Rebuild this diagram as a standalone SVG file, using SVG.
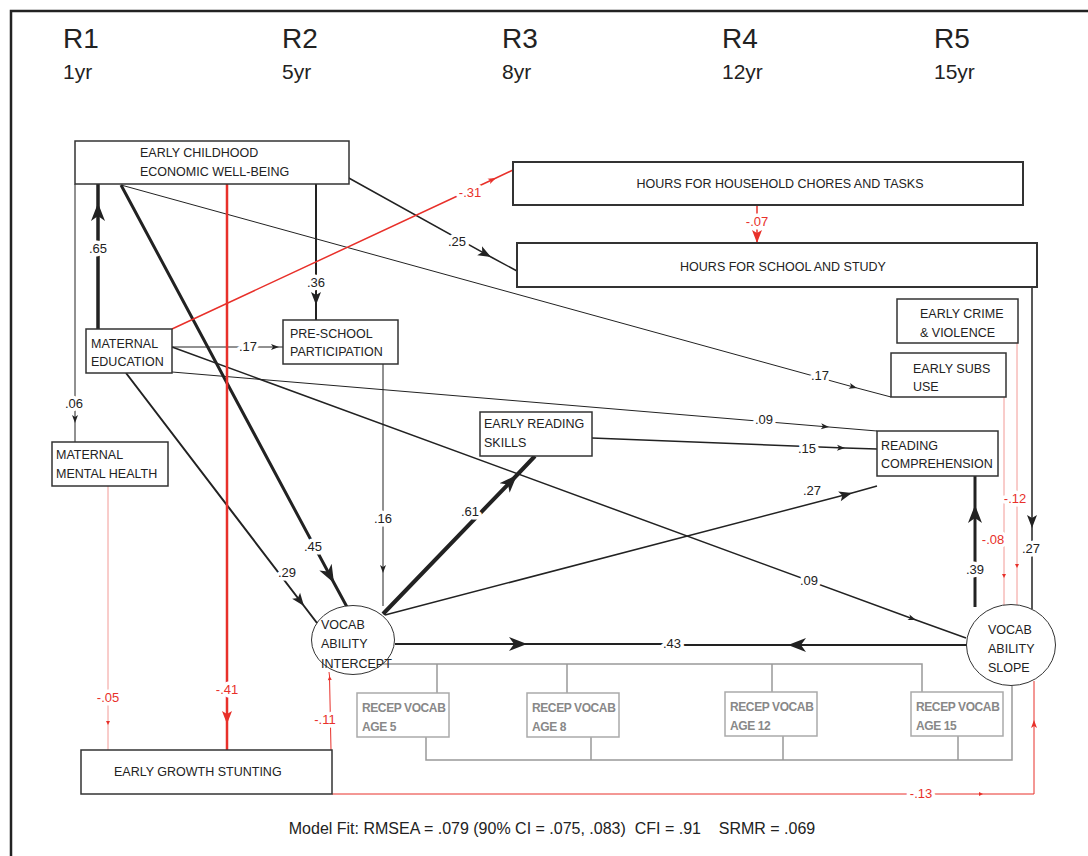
<svg xmlns="http://www.w3.org/2000/svg" width="1088" height="856" viewBox="0 0 1088 856">
  <style>
    .frame { fill: none; stroke: #222; stroke-width: 2.5; }
    .hd { font-family: "Liberation Sans", Arial, sans-serif; fill: #222; }
    .box { fill: #fff; stroke: #333; stroke-width: 1.5; }
    .boxb { fill: #fff; stroke: #333; stroke-width: 2; }
    .gbox { fill: #fff; stroke: #aaa; stroke-width: 1.5; }
    .nt { font-family: "Liberation Sans", Arial, sans-serif; font-size: 12.5px; fill: #222; }
    .gt { font-family: "Liberation Sans", Arial, sans-serif; font-size: 12px; font-weight: bold; fill: #888; letter-spacing: -0.4px; }
    .k { fill: none; stroke: #222; }
    .r { fill: none; stroke: #e8302a; }
    .rl { fill: none; stroke: #f29a96; stroke-width: 1; }
    .g { fill: none; stroke: #999; stroke-width: 1.5; }
    .lb { font-family: "Liberation Sans", Arial, sans-serif; font-size: 13px; fill: #222; text-anchor: middle;
          stroke: #fff; stroke-width: 7px; stroke-linejoin: round; paint-order: stroke; }
    .lbr { fill: #e8302a; }
  </style>
  <defs>
    <marker id="kL" markerUnits="userSpaceOnUse" viewBox="-18 -8 19 16" refX="0" refY="0" markerWidth="19" markerHeight="16" orient="auto">
      <path d="M0,0 L-18,-7 L-13,0 L-18,7 z" fill="#222"/>
    </marker>
    <marker id="kM" markerUnits="userSpaceOnUse" viewBox="-14 -6 15 12" refX="0" refY="0" markerWidth="15" markerHeight="12" orient="auto">
      <path d="M0,0 L-13,-5 L-10,0 L-13,5 z" fill="#222"/>
    </marker>
    <marker id="kS" markerUnits="userSpaceOnUse" viewBox="-9 -4 10 8" refX="0" refY="0" markerWidth="10" markerHeight="8" orient="auto">
      <path d="M0,0 L-8,-3 L-6,0 L-8,3 z" fill="#222"/>
    </marker>
    <marker id="rM" markerUnits="userSpaceOnUse" viewBox="-14 -6 15 12" refX="0" refY="0" markerWidth="15" markerHeight="12" orient="auto">
      <path d="M0,0 L-13,-5 L-10,0 L-13,5 z" fill="#e8302a"/>
    </marker>
    <marker id="rS" markerUnits="userSpaceOnUse" viewBox="-9 -4 10 8" refX="0" refY="0" markerWidth="10" markerHeight="8" orient="auto">
      <path d="M0,0 L-8,-3 L-6,0 L-8,3 z" fill="#e8302a"/>
    </marker>
    <marker id="rT" markerUnits="userSpaceOnUse" viewBox="-5 -3 6 6" refX="0" refY="0" markerWidth="6" markerHeight="6" orient="auto">
      <path d="M0,0 L-4,-2 L-4,2 z" fill="#e8302a"/>
    </marker>
  </defs>

  <rect class="frame" x="11" y="11" width="1100" height="900"/>

  <!-- wave headers -->
  <g id="headers" class="hd">
    <text x="63" y="48" font-size="28">R1</text>
    <text x="63" y="79" font-size="21">1yr</text>
    <text x="282" y="48" font-size="28">R2</text>
    <text x="282" y="79" font-size="21">5yr</text>
    <text x="502" y="48" font-size="28">R3</text>
    <text x="502" y="79" font-size="21">8yr</text>
    <text x="722" y="48" font-size="28">R4</text>
    <text x="722" y="79" font-size="21">12yr</text>
    <text x="934" y="48" font-size="28">R5</text>
    <text x="934" y="79" font-size="21">15yr</text>
  </g>

  <!-- paths -->
  <g id="connectors">
    <!-- measurement model (grey) -->
    <path class="g" d="M383,664 H922 V692 M437,664 V693 M567,664 V693 M772,664 V692"/>
    <path class="g" d="M426,737 V760 H1012 V686 M591,737 V760 M783,736 V760 M958,736 V760"/>

    <!-- black structural paths -->
    <path class="k" stroke-width="3.5" marker-mid="url(#kL)" d="M98,329 L98,203 L98,184"/>
    <path class="k" stroke-width="1" marker-mid="url(#kS)" d="M75,184 L75,423 L75,442"/>
    <path class="k" stroke-width="2" marker-mid="url(#kM)" d="M316,184 L316,305 L316,320"/>
    <path class="k" stroke-width="3" marker-mid="url(#kL)" d="M121,185 L334,583 L347,607"/>
    <path class="k" stroke-width="2" marker-mid="url(#kM)" d="M126,373 L304,606 L317,623"/>
    <path class="k" stroke-width="1" marker-mid="url(#kS)" d="M172,347 L279,347 L283,347"/>
    <path class="k" stroke-width="1.5" marker-mid="url(#kM)" d="M347,177 L491,257 L517,271"/>
    <path class="k" stroke-width="1" marker-mid="url(#kS)" d="M121,185 L857,388 L891,397"/>
    <path class="k" stroke="#777" stroke-width="1" marker-mid="url(#kS)" d="M172,372 L829,427 L877,431"/>
    <path class="k" stroke-width="1.5" marker-mid="url(#kS)" d="M172,347 L916,620 L966,638"/>
    <path class="k" stroke-width="1" marker-mid="url(#kS)" d="M383,364 L383,573 L383,606"/>
    <path class="k" stroke-width="4" marker-mid="url(#kL)" d="M383,614 L517,475 L535,456"/>
    <path class="k" stroke-width="1.5" marker-mid="url(#kS)" d="M592,438 L845,448 L877,449"/>
    <path class="k" stroke-width="1.5" marker-mid="url(#kM)" d="M385,615 L852,493 L877,486"/>
    <path class="k" stroke-width="3" marker-mid="url(#kL)" d="M975,607 L975,505 L975,476"/>
    <path class="k" stroke-width="2" marker-mid="url(#kL)" d="M395,644 L527,644 L672,644"/>
    <path class="k" stroke-width="2" marker-mid="url(#kL)" d="M967,645 L788,645 L672,645"/>
    <path class="k" stroke-width="1.5" marker-mid="url(#kM)" d="M1032,287 L1032,528 L1032,609"/>

    <!-- red structural paths -->
    <path class="r" stroke-width="2.5" marker-mid="url(#rM)" d="M227,184 L227,724 L227,750"/>
    <path class="r" stroke-width="1.5" marker-mid="url(#rS)" d="M172,329 L496,178 L513,170"/>
    <path class="r" stroke-width="1.5" marker-mid="url(#rM)" d="M757,205 L757,243 L757,243.5"/>
    <path class="r" stroke-width="1" marker-mid="url(#rT)" d="M331,750 L329.5,676 L329,672"/>
    <path class="r" stroke-width="1" marker-mid="url(#rT)" d="M332,794 L983,794 L1034,794"/>
    <path class="r" stroke-width="1" marker-mid="url(#rS)" d="M1034,794 L1034,720 L1034,681"/>
    <path class="rl" marker-mid="url(#rT)" d="M108,486 L108,725 L108,750"/>
    <path class="rl" marker-mid="url(#rT)" d="M1017,343 L1017,568 L1017,605"/>
    <path class="rl" marker-mid="url(#rT)" d="M1004,397 L1004,578 L1004,606"/>

    <!-- coefficients -->
    <text class="lb" x="98" y="253">.65</text>
    <text class="lb" x="74" y="408">.06</text>
    <text class="lb" x="316" y="287">.36</text>
    <text class="lb" x="313" y="551">.45</text>
    <text class="lb" x="287" y="577">.29</text>
    <text class="lb" x="248" y="351">.17</text>
    <text class="lb" x="457" y="246">.25</text>
    <text class="lb" x="820" y="380">.17</text>
    <text class="lb" x="764" y="424">.09</text>
    <text class="lb" x="809" y="585">.09</text>
    <text class="lb" x="383" y="523">.16</text>
    <text class="lb" x="470" y="516">.61</text>
    <text class="lb" x="807" y="453">.15</text>
    <text class="lb" x="812" y="495">.27</text>
    <text class="lb" x="975" y="574">.39</text>
    <text class="lb" x="672" y="648">.43</text>
    <text class="lb" x="1031" y="553">.27</text>
    <text class="lb lbr" x="227" y="694">-.41</text>
    <text class="lb lbr" x="470" y="197">-.31</text>
    <text class="lb lbr" x="757" y="226">-.07</text>
    <text class="lb lbr" x="108" y="702">-.05</text>
    <text class="lb lbr" x="325" y="724">-.11</text>
    <text class="lb lbr" x="921" y="798">-.13</text>
    <text class="lb lbr" x="1015" y="503">-.12</text>
    <text class="lb lbr" x="993" y="544">-.08</text>
  </g>

  <g id="econ-wellbeing">
    <rect class="box" x="75" y="141" width="274" height="43"/>
    <text class="nt" x="140" y="157">EARLY CHILDHOOD</text>
    <text class="nt" x="140" y="176">ECONOMIC WELL-BEING</text>
  </g>
  <g id="chores">
    <rect class="boxb" x="513" y="162" width="510" height="43"/>
    <text class="nt" x="780" y="188" text-anchor="middle">HOURS FOR HOUSEHOLD CHORES AND TASKS</text>
  </g>
  <g id="school-study">
    <rect class="boxb" x="517" y="243" width="520" height="44"/>
    <text class="nt" x="783" y="271" text-anchor="middle">HOURS FOR SCHOOL AND STUDY</text>
  </g>
  <g id="crime">
    <rect class="box" x="897" y="299" width="121" height="44"/>
    <text class="nt" x="920" y="318">EARLY CRIME</text>
    <text class="nt" x="920" y="337">&amp; VIOLENCE</text>
  </g>
  <g id="subs-use">
    <rect class="box" x="891" y="353" width="115" height="44"/>
    <text class="nt" x="913" y="373">EARLY SUBS</text>
    <text class="nt" x="913" y="391">USE</text>
  </g>
  <g id="maternal-education">
    <rect class="box" x="86" y="329" width="86" height="44"/>
    <text class="nt" x="91" y="348">MATERNAL</text>
    <text class="nt" x="91" y="366">EDUCATION</text>
  </g>
  <g id="preschool">
    <rect class="box" x="283" y="320" width="115" height="44"/>
    <text class="nt" x="290" y="338">PRE-SCHOOL</text>
    <text class="nt" x="290" y="356">PARTICIPATION</text>
  </g>
  <g id="maternal-mental-health">
    <rect class="box" x="52" y="442" width="116" height="44"/>
    <text class="nt" x="56" y="459">MATERNAL</text>
    <text class="nt" x="56" y="478">MENTAL HEALTH</text>
  </g>
  <g id="early-reading">
    <rect class="box" x="480" y="412" width="112" height="44"/>
    <text class="nt" x="484" y="428">EARLY READING</text>
    <text class="nt" x="484" y="447">SKILLS</text>
  </g>
  <g id="reading-comprehension">
    <rect class="box" x="877" y="431" width="121" height="45"/>
    <text class="nt" x="881" y="450">READING</text>
    <text class="nt" x="881" y="468">COMPREHENSION</text>
  </g>
  <g id="vocab-intercept">
    <ellipse cx="353" cy="640" rx="41.5" ry="34.5" fill="#fff" stroke="#333" stroke-width="1"/>
    <text class="nt" x="321" y="629">VOCAB</text>
    <text class="nt" x="321" y="648">ABILITY</text>
    <text class="nt" x="321" y="668">INTERCEPT</text>
  </g>
  <g id="vocab-slope">
    <ellipse cx="1011" cy="645" rx="44.5" ry="40.5" fill="#fff" stroke="#333" stroke-width="1"/>
    <text class="nt" x="988" y="634">VOCAB</text>
    <text class="nt" x="988" y="653">ABILITY</text>
    <text class="nt" x="988" y="672">SLOPE</text>
  </g>
  <g id="recep-5">
    <rect class="gbox" x="357" y="693" width="92" height="44"/>
    <text class="gt" x="362" y="712">RECEP VOCAB</text>
    <text class="gt" x="362" y="731">AGE 5</text>
  </g>
  <g id="recep-8">
    <rect class="gbox" x="527" y="693" width="92" height="44"/>
    <text class="gt" x="532" y="712">RECEP VOCAB</text>
    <text class="gt" x="532" y="731">AGE 8</text>
  </g>
  <g id="recep-12">
    <rect class="gbox" x="725" y="692" width="92" height="44"/>
    <text class="gt" x="730" y="711">RECEP VOCAB</text>
    <text class="gt" x="730" y="730">AGE 12</text>
  </g>
  <g id="recep-15">
    <rect class="gbox" x="911" y="692" width="92" height="44"/>
    <text class="gt" x="916" y="711">RECEP VOCAB</text>
    <text class="gt" x="916" y="730">AGE 15</text>
  </g>
  <g id="growth-stunting">
    <rect class="box" x="81" y="750" width="251" height="44"/>
    <text class="nt" x="114" y="776">EARLY GROWTH STUNTING</text>
  </g>

  <text id="model-fit" class="hd" x="552" y="834" font-size="16" text-anchor="middle" xml:space="preserve">Model Fit: RMSEA = .079 (90% CI = .075, .083)  CFI = .91    SRMR = .069</text>
</svg>
